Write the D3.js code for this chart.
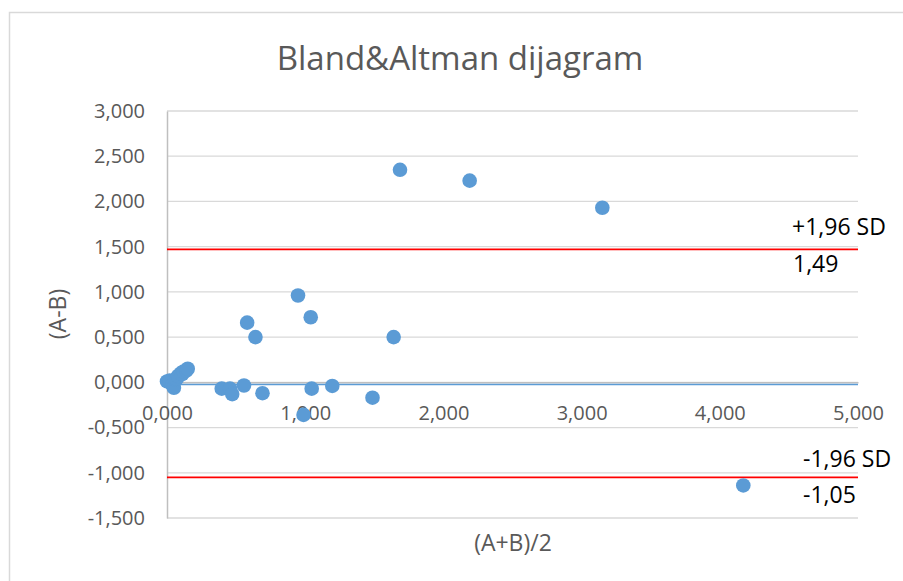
<!DOCTYPE html>
<html><head><meta charset="utf-8">
<script src="https://cdn.jsdelivr.net/npm/d3@7"></script>
<style>body{margin:0;background:#fff}svg{display:block}text{font-family:"Open Sans",sans-serif}</style>
</head><body>
<svg id="c" width="903" height="581"></svg>
<script>
// Data (values in thousands as shown on axes)
const meanAB = [0.000,0.020,0.040,0.050,0.060,0.070,0.080,0.100,0.110,0.120,0.140,0.150,
  0.396,0.456,0.472,0.557,0.580,0.640,0.691,0.948,0.988,1.040,1.047,1.196,1.487,1.640,1.686,2.190,3.150,4.170];
const diffAB = [0.010,0.020,-0.030,-0.060,0.030,0.040,0.070,0.100,0.090,0.120,0.130,0.150,
  -0.070,-0.070,-0.130,-0.035,0.660,0.500,-0.120,0.960,-0.360,0.720,-0.070,-0.040,-0.170,0.500,2.350,2.230,1.930,-1.140];
const meanDiff = -0.025;
const upperLoA = 1.47;
const lowerLoA = -1.05;
const upperLabel = "+1,96 SD", upperValueLabel = "1,49";
const lowerLabel = "-1,96 SD", lowerValueLabel = "-1,05";
const xTicks = [0,1,2,3,4,5];
const yTicks = [-1.5,-1,-0.5,0,0.5,1,1.5,2,2.5,3];
const title = "Bland&Altman dijagram";
const xTitle = "(A+B)/2", yTitle = "(A-B)";

const svg = d3.select("#c");
const x = d3.scaleLinear().domain([0,5]).range([167,858]);
const y = d3.scaleLinear().domain([-1.5,3]).range([518,111]);
const fmt = v => d3.format(".3f")(v).replace("\u2212","-").replace(".",",");

// chart border
svg.append("rect").attr("x",9.5).attr("y",12.5).attr("width",903).attr("height",600)
  .attr("fill","none").attr("stroke","#D9D9D9").attr("stroke-width",1.5);

// title
svg.append("text").attr("x",460).attr("y",70).attr("text-anchor","middle")
  .attr("font-size",33).attr("fill","#595959").text(title);

// gridlines
svg.append("g").selectAll("line").data(yTicks).join("line")
  .attr("x1",x(0)).attr("x2",x(5)).attr("y1",d=>y(d)).attr("y2",d=>y(d))
  .attr("stroke","#D9D9D9").attr("stroke-width",1.3);

// y axis
const yAxis = svg.append("g").attr("transform",`translate(${x(0)},0)`)
  .call(d3.axisLeft(y).tickValues(yTicks).tickFormat(fmt).tickSize(0).tickPadding(22));
yAxis.select(".domain").attr("stroke","#BFBFBF").attr("stroke-width",1.5);
yAxis.selectAll("text").attr("font-size",20).attr("fill","#595959").attr("font-family","'Open Sans',sans-serif");

// x axis at y=0
const xAxis = svg.append("g").attr("transform",`translate(0,${y(0)})`)
  .call(d3.axisBottom(x).tickValues(xTicks).tickFormat(fmt).tickSize(0).tickPadding(23));
xAxis.select(".domain").attr("stroke","#BFBFBF").attr("stroke-width",1.5);
xAxis.selectAll("text").attr("font-size",20).attr("fill","#595959").attr("font-family","'Open Sans',sans-serif");

// axis titles
svg.append("text").attr("x",513).attr("y",551).attr("text-anchor","middle")
  .attr("font-size",23).attr("fill","#595959").text(xTitle);
svg.append("text").attr("transform","translate(66,314) rotate(-90)").attr("text-anchor","middle")
  .attr("font-size",23).attr("fill","#595959").text(yTitle);

// limit lines
[upperLoA, lowerLoA].forEach(v=>{
  svg.append("line").attr("x1",x(0)).attr("x2",x(5)).attr("y1",y(v)).attr("y2",y(v))
    .attr("stroke","#FF0000").attr("stroke-width",1.8);
});
svg.append("line").attr("x1",x(0)).attr("x2",x(5)).attr("y1",y(meanDiff)).attr("y2",y(meanDiff))
  .attr("stroke","#5B9BD5").attr("stroke-width",1.5);

// dots
svg.append("g").selectAll("circle").data(meanAB.map((d,i)=>[d,diffAB[i]])).join("circle")
  .attr("cx",d=>x(d[0])).attr("cy",d=>y(d[1])).attr("r",7.3).attr("fill","#5B9BD5");

// annotations
const ann = [[upperLabel,792,235],[upperValueLabel,793,272],[lowerLabel,803,467],[lowerValueLabel,803,503]];
svg.append("g").selectAll("text").data(ann).join("text")
  .attr("x",d=>d[1]).attr("y",d=>d[2]).attr("font-size",23).attr("fill","#000").text(d=>d[0]);
</script>
</body></html>
